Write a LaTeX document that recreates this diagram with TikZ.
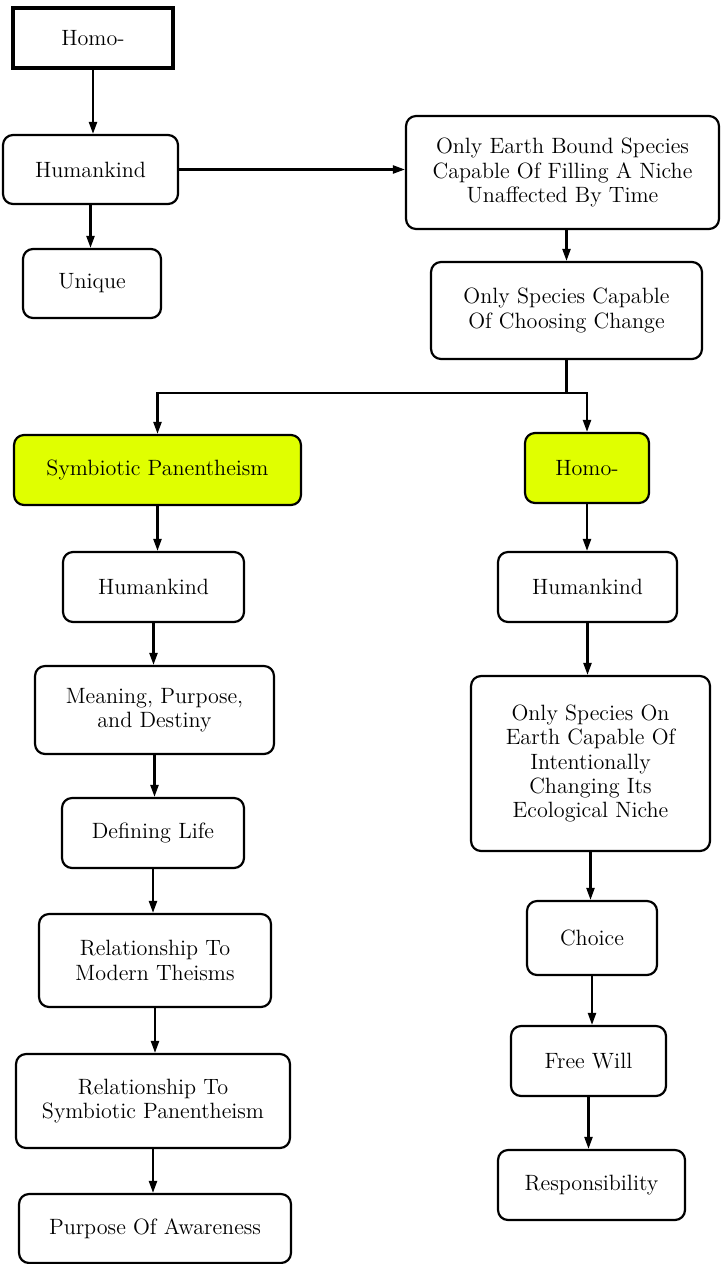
\documentclass[tikz,border=0pt]{standalone}
\usepackage{tikz}
\usetikzlibrary{arrows.meta,positioning,calc}
\usepackage{xcolor}
\definecolor{limefill}{RGB}{224,255,0}

\begin{document}
\begin{tikzpicture}[
  x=0.02cm, y=-0.02cm,
  every node/.style={font=\fontsize{12.6}{13.8}\selectfont},
  box/.style={draw=black,line width=1.25pt,rounded corners=0.2cm,fill=white,
              align=center,inner sep=2pt},
  topbox/.style={draw=black,line width=2.8pt,fill=white,align=center},
  hilite/.style={box,fill=limefill},
  arr/.style={draw=black,line width=1.25pt,-{Triangle[length=0.24cm,width=0.16cm]}},
]

%% Page frame (reference margins)
\useasboundingbox (0,0) rectangle (721,1264);

%% Top block
\node[topbox,minimum width=3.2cm,minimum height=1.2cm] (homoTop) at (93,38) {Homo-};
\node[box,minimum width=3.5cm,minimum height=1.38cm] (humTop) at (90.5,169.5) {Humankind};
\node[box,minimum width=2.76cm,minimum height=1.38cm] (unique) at (92,283.5) {Unique};

\node[box,minimum width=6.26cm,minimum height=2.26cm] (earth) at (562.5,172.5)
  {Only Earth Bound Species\\Capable Of Filling A Niche\\Unaffected By Time};
\node[box,minimum width=5.42cm,minimum height=1.94cm] (choose) at (566.5,310.5)
  {Only Species Capable\\Of Choosing Change};

%% Left branch
\node[hilite,minimum width=5.74cm,minimum height=1.4cm] (symb) at (157.5,470) {Symbiotic Panentheism};
\node[box,minimum width=3.62cm,minimum height=1.4cm] (humL) at (153.5,587) {Humankind};
\node[box,minimum width=4.78cm,minimum height=1.76cm] (meaning) at (154.5,710)
  {Meaning, Purpose,\\and Destiny};
\node[box,minimum width=3.64cm,minimum height=1.4cm] (defLife) at (153,833) {Defining Life};
\node[box,minimum width=4.64cm,minimum height=1.86cm] (relMod) at (155,960.5)
  {Relationship To\\Modern Theisms};
\node[box,minimum width=5.48cm,minimum height=1.88cm] (relSym) at (153,1101)
  {Relationship To\\Symbiotic Panentheism};
\node[box,minimum width=5.44cm,minimum height=1.38cm] (purpose) at (155,1228.5) {Purpose Of Awareness};

%% Right branch
\node[hilite,minimum width=2.48cm,minimum height=1.4cm] (homoR) at (587,468) {Homo-};
\node[box,minimum width=3.58cm,minimum height=1.4cm] (humR) at (587.5,587) {Humankind};
\node[box,minimum width=4.78cm,minimum height=3.5cm] (niche) at (590.5,763.5)
  {Only Species On\\Earth Capable Of\\Intentionally\\Changing Its\\Ecological Niche};
\node[box,minimum width=2.6cm,minimum height=1.48cm] (choice) at (592,938) {Choice};
\node[box,minimum width=3.1cm,minimum height=1.4cm] (freeWill) at (588.5,1061) {Free Will};
\node[box,minimum width=3.74cm,minimum height=1.4cm] (resp) at (591.5,1185) {Responsibility};

%% Connectors, top block
\draw[arr] (homoTop.south) -- (homoTop.south |- humTop.north);
\draw[arr] (humTop.east) -- (humTop.east -| earth.west);
\draw[arr] (humTop.south) -- (humTop.south |- unique.north);
\draw[arr] (earth.south -| choose.north) -- (choose.north);

%% Split into the two branches
\coordinate (split) at ($(choose.south)+(0,33)$);
\draw[line width=1.25pt] (choose.south) -- (split);
\draw[arr] (split) -| (symb.north);
\draw[arr] (split) -| (homoR.north);

%% Left column
\draw[arr] (symb.south) -- (symb.south |- humL.north);
\draw[arr] (humL.south) -- (humL.south |- meaning.north);
\draw[arr] (meaning.south) -- (meaning.south |- defLife.north);
\draw[arr] (defLife.south) -- (defLife.south |- relMod.north);
\draw[arr] (relMod.south) -- (relMod.south |- relSym.north);
\draw[arr] (relSym.south) -- (relSym.south |- purpose.north);

%% Right column
\draw[arr] (homoR.south) -- (homoR.south |- humR.north);
\draw[arr] (humR.south) -- (humR.south |- niche.north);
\draw[arr] (niche.south) -- (niche.south |- choice.north);
\draw[arr] (choice.south) -- (choice.south |- freeWill.north);
\draw[arr] (freeWill.south) -- (freeWill.south |- resp.north);

\end{tikzpicture}
\end{document}
